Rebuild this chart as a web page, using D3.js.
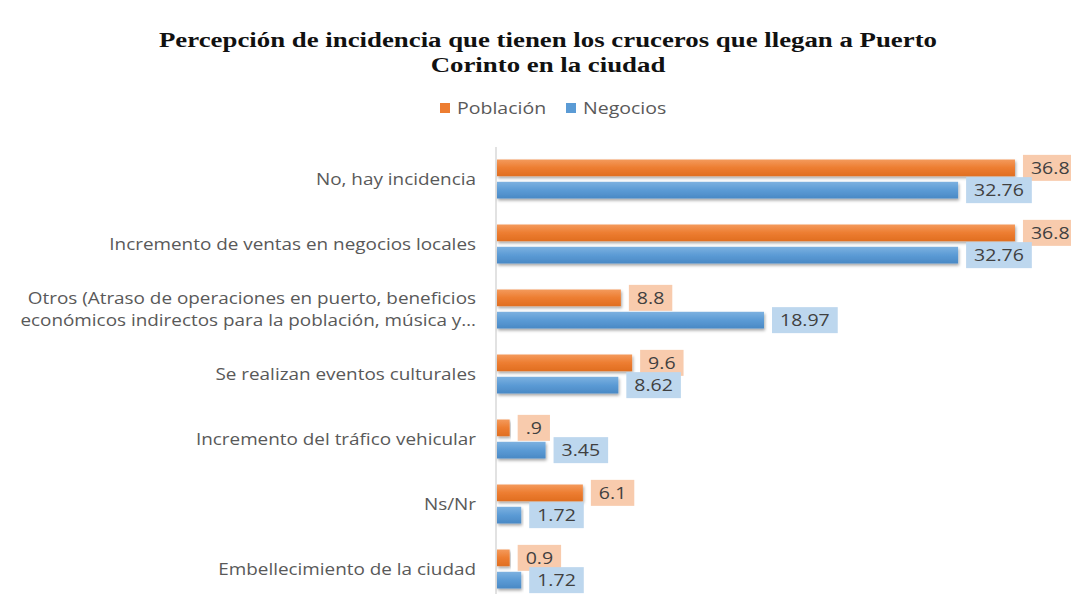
<!DOCTYPE html>
<html>
<head>
<meta charset="utf-8">
<script src="https://cdn.jsdelivr.net/npm/d3@7"></script>
<style>
  body { margin: 0; background: #fff; }
</style>
</head>
<body>
<div id="chart"></div>
<script>
// data, top to bottom
const categories = [
  ["No, hay incidencia"],
  ["Incremento de ventas en negocios locales"],
  ["Otros (Atraso de operaciones en puerto, beneficios", "económicos indirectos para la población, música y…"],
  ["Se realizan eventos culturales"],
  ["Incremento del tráfico vehicular"],
  ["Ns/Nr"],
  ["Embellecimiento de la ciudad"]
];
const seriesNames = ["Población", "Negocios"];
const poblacion = [36.8, 36.8, 8.8, 9.6, 0.9, 6.1, 0.9];
const negocios = [32.76, 32.76, 18.97, 8.62, 3.45, 1.72, 1.72];
const poblacionLabels = ["36.8", "36.8", "8.8", "9.6", ".9", "6.1", "0.9"];
const negociosLabels = ["32.76", "32.76", "18.97", "8.62", "3.45", "1.72", "1.72"];

const width = 1071;
const height = 594;
const sx = 1.22; // the source picture is stretched sideways
const colors = {"Población": "#ED7D31", "Negocios": "#5B9BD5"};
const boxColors = {"Población": "#F8CBAD", "Negocios": "#BDD7EE"};

const svg = d3.select("#chart")
    .append("svg")
    .attr("width", width)
    .attr("height", height)
    .attr("viewBox", [0, 0, width, height]);

const defs = svg.append("defs");
const shadow = defs.append("filter").attr("id", "shadow")
    .attr("x", "-5%").attr("y", "-30%").attr("width", "115%").attr("height", "190%");
shadow.append("feDropShadow")
    .attr("dx", 1).attr("dy", 2).attr("stdDeviation", 1.5)
    .attr("flood-color", "#000").attr("flood-opacity", 0.35);

const grads = {
  "Población": ["#F49A5C", "#ED7D31", "#E06E20"],
  "Negocios": ["#7DB1E0", "#5B9BD5", "#4A89C5"]
};
seriesNames.forEach((s, i) => {
  const g = defs.append("linearGradient").attr("id", "grad" + i)
      .attr("x1", 0).attr("y1", 0).attr("x2", 0).attr("y2", 1);
  g.append("stop").attr("offset", "0%").attr("stop-color", grads[s][0]);
  g.append("stop").attr("offset", "50%").attr("stop-color", grads[s][1]);
  g.append("stop").attr("offset", "100%").attr("stop-color", grads[s][2]);
});

// stretched text helper
function sText(parent, x, y, str) {
  return parent.append("text")
      .attr("transform", `translate(${x},${y}) scale(${sx},1)`)
      .text(str);
}

// title
const title = svg.append("g")
    .attr("text-anchor", "middle")
    .attr("font-family", "'Liberation Serif', 'Times New Roman', serif")
    .attr("font-weight", "bold")
    .attr("font-size", "22px")
    .attr("fill", "#111");
sText(title, 548, 47, "Percepción de incidencia que tienen los cruceros que llegan a Puerto");
sText(title, 548, 72, "Corinto en la ciudad");

// legend
const legend = svg.append("g")
    .attr("font-family", "'Open Sans', sans-serif")
    .attr("font-size", "16px")
    .attr("fill", "#595959");
const legendX = [440, 566];
seriesNames.forEach((s, i) => {
  legend.append("rect")
      .attr("x", legendX[i]).attr("y", 103)
      .attr("width", 10).attr("height", 10)
      .attr("fill", colors[s]);
  sText(legend, legendX[i] + 17, 114, s);
});

// scales
const xScale = d3.scaleLinear()
    .domain([0, 40])
    .range([497, 1060]);

const yScale = d3.scaleBand()
    .domain(d3.range(categories.length))
    .range([146.5, 601.5])
    .paddingInner(0.4)
    .paddingOuter(0.2);

const ySub = d3.scaleBand()
    .domain(seriesNames)
    .range([0, yScale.bandwidth()])
    .paddingInner(0.25);

// axis line
svg.append("line")
    .attr("x1", xScale(0) - 1).attr("x2", xScale(0) - 1)
    .attr("y1", 147).attr("y2", height)
    .attr("stroke", "#D9D9D9")
    .attr("stroke-width", 1.5);

// category labels
const catLabels = svg.append("g")
    .attr("font-family", "'Open Sans', sans-serif")
    .attr("font-size", "15.5px")
    .attr("fill", "#595959")
    .attr("text-anchor", "end");
categories.forEach((lines, i) => {
  const cy = yScale(i) + yScale.bandwidth() / 2;
  lines.forEach((ln, j) => {
    sText(catLabels, 476, cy + 6 + (j - (lines.length - 1) / 2) * 22, ln);
  });
});

// bars and labels
const series = [
  {name: "Población", values: poblacion, labels: poblacionLabels},
  {name: "Negocios", values: negocios, labels: negociosLabels}
];

series.forEach((s, si) => {
  svg.append("g")
      .selectAll("rect")
      .data(s.values)
      .join("rect")
      .attr("x", xScale(0))
      .attr("y", (d, i) => yScale(i) + ySub(s.name))
      .attr("width", d => xScale(d) - xScale(0))
      .attr("height", ySub.bandwidth())
      .attr("fill", "url(#grad" + si + ")")
      .attr("filter", "url(#shadow)");
});

const labelG = svg.append("g")
    .attr("font-family", "'Open Sans', sans-serif")
    .attr("font-size", "16px")
    .attr("fill", "#404040");

series.forEach(s => {
  s.values.forEach((v, i) => {
    const cy = yScale(i) + ySub(s.name) + ySub.bandwidth() / 2;
    const x0 = xScale(v) + 8;
    const txt = sText(labelG, x0 + 8, cy + 6, s.labels[i]);
    const w = txt.node().getComputedTextLength() * sx;
    labelG.insert("rect", function() { return txt.node(); })
        .attr("x", x0)
        .attr("y", cy - 13)
        .attr("width", w + 16)
        .attr("height", 26)
        .attr("fill", boxColors[s.name]);
  });
});
</script>
</body>
</html>
